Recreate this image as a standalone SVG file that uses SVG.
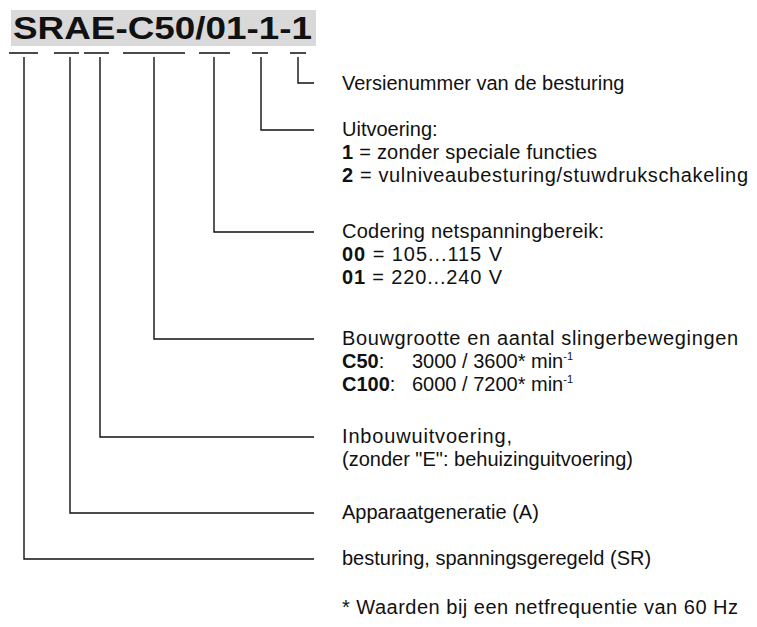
<svg xmlns="http://www.w3.org/2000/svg" width="757" height="627" viewBox="0 0 757 627">
<style>
.t{font-family:"Liberation Sans",Arial,sans-serif;font-size:20px;fill:#111}
.b{font-weight:bold}
.sup{font-size:11px}
.title{font-family:"Liberation Sans",Arial,sans-serif;font-size:31px;font-weight:bold;fill:#111}
.ln{stroke:#111;stroke-width:1.4;fill:none}
</style>
<rect x="0" y="0" width="757" height="627" fill="#fff"/>
<g id="title">
<rect x="11" y="10" width="305" height="36" fill="#d9d9d9"/>
<text class="title" x="13" y="39" textLength="299" lengthAdjust="spacingAndGlyphs">SRAE-C50/01-1-1</text>
</g>
<g id="connectors">
<path class="ln" d="M9 53H38M54 53H79M84 53H109M123 53H185M199 53H230M252 53H268M290 53H306"/>
<path class="ln" d="M298 57V83H314"/>
<path class="ln" d="M261 57V130H314"/>
<path class="ln" d="M214 57V232H314"/>
<path class="ln" d="M154 57V339H314"/>
<path class="ln" d="M100 57V437H314"/>
<path class="ln" d="M70 57V513H314"/>
<path class="ln" d="M24 57V559H314"/>
</g>
<g id="n-versie"><text class="t" x="342" y="90">Versienummer van de besturing</text></g>
<g id="n-uitvoering">
<text class="t" x="342" y="136">Uitvoering:</text>
<text class="t" x="342" y="159" textLength="255" lengthAdjust="spacing"><tspan class="b">1</tspan> = zonder speciale functies</text>
<text class="t" x="342" y="182" textLength="406" lengthAdjust="spacing"><tspan class="b">2</tspan> = vulniveaubesturing/stuwdrukschakeling</text>
</g>
<g id="n-codering">
<text class="t" x="342" y="238" textLength="262" lengthAdjust="spacing">Codering netspanningbereik:</text>
<text class="t" x="342" y="261" textLength="160" lengthAdjust="spacing"><tspan class="b">00</tspan> = 105...115 V</text>
<text class="t" x="342" y="284" textLength="160" lengthAdjust="spacing"><tspan class="b">01</tspan> = 220...240 V</text>
</g>
<g id="n-bouw">
<text class="t" x="342" y="345" textLength="396" lengthAdjust="spacing">Bouwgrootte en aantal slingerbewegingen</text>
<text class="t" x="342" y="368"><tspan class="b">C50</tspan>:<tspan x="412">3000 / 3600* min</tspan><tspan class="sup" dy="-8">-1</tspan></text>
<text class="t" x="342" y="391"><tspan class="b">C100</tspan>:<tspan x="412">6000 / 7200* min</tspan><tspan class="sup" dy="-8">-1</tspan></text>
</g>
<g id="n-inbouw">
<text class="t" x="342" y="443" textLength="170" lengthAdjust="spacing">Inbouwuitvoering,</text>
<text class="t" x="342" y="466">(zonder "E": behuizinguitvoering)</text>
</g>
<g id="n-appar"><text class="t" x="342" y="519">Apparaatgeneratie (A)</text></g>
<g id="n-besturing"><text class="t" x="342" y="565">besturing, spanningsgeregeld (SR)</text></g>
<g id="note"><text class="t" x="342" y="614" textLength="396" lengthAdjust="spacing">* Waarden bij een netfrequentie van 60 Hz</text></g>
</svg>
